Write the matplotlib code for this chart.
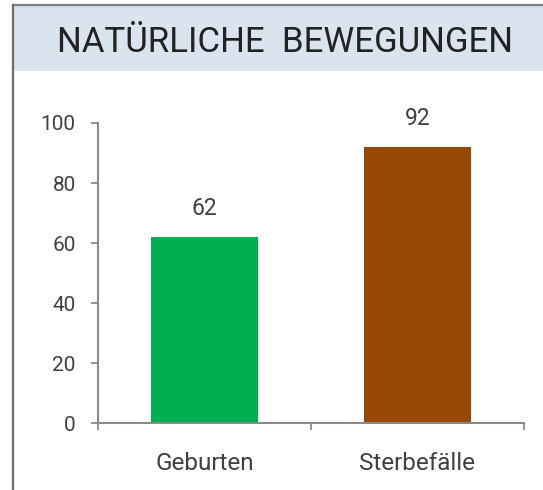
import matplotlib
matplotlib.use('Agg')
import matplotlib.pyplot as plt
from matplotlib.patches import Rectangle
from matplotlib.lines import Line2D

# data
categories = ['Geburten', 'Sterbefälle']
values = [62, 92]
bar_colors = ['#00b050', '#974706']
y_ticks = [0, 20, 40, 60, 80, 100]
title = 'NATÜRLICHE  BEWEGUNGEN'

plt.rcParams['font.family'] = ['Roboto', 'DejaVu Sans']
text_col = '#404040'
axis_col = '#8a8a8a'

fig = plt.figure(figsize=(5.43, 4.90), dpi=100)
fig.patch.set_facecolor('white')

# title band and frame
fig.add_artist(Rectangle((13 / 543, 1 - 71 / 490), 1 - 13 / 543, 66 / 490,
                         transform=fig.transFigure, facecolor='#dae4ef',
                         edgecolor='none', zorder=0))
fig.add_artist(Line2D([13 / 543, 1], [1 - 5 / 490, 1 - 5 / 490],
                      transform=fig.transFigure, color='#7a7f85', lw=1.6))
fig.add_artist(Line2D([13 / 543, 13 / 543], [0, 1 - 5 / 490],
                      transform=fig.transFigure, color='#6e6e6e', lw=1.6))
fig.text(285 / 543, 1 - 43 / 490, title, ha='center', va='center',
         fontsize=25, color='#222222')

ax = fig.add_axes([98 / 543, 1 - 423 / 490, 426 / 543, 300 / 490])
x = list(range(len(categories)))
bars = ax.bar(x, values, width=0.5, color=bar_colors, zorder=2)
for b, v in zip(bars, values):
    ax.annotate(str(v), (b.get_x() + b.get_width() / 2, v),
                xytext=(0, 12), textcoords='offset points',
                ha='center', va='bottom', fontsize=16.5, color=text_col)

ax.set_xlim(-0.5, len(categories) - 0.5)
ax.set_ylim(0, 100)
ax.set_yticks(y_ticks)
ax.set_xticks(x)
ax.set_xticklabels(categories)
ax.set_xticks([i - 0.5 for i in range(len(categories) + 1)], minor=True)

for s in ['top', 'right']:
    ax.spines[s].set_visible(False)
for s in ['left', 'bottom']:
    ax.spines[s].set_color(axis_col)
    ax.spines[s].set_linewidth(1.5)

ax.tick_params(axis='y', length=5, width=1.3, color=axis_col, pad=11,
               labelsize=15, labelcolor=text_col)
ax.tick_params(axis='x', which='major', length=0, pad=21,
               labelsize=17.5, labelcolor=text_col)
ax.tick_params(axis='x', which='minor', length=5, width=1.3, color=axis_col)

fig.savefig('out.png', dpi=100)
